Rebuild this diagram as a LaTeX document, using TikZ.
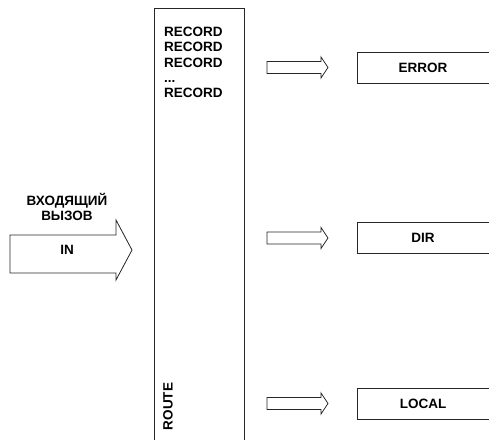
\documentclass[tikz,border=0pt]{standalone}
\usepackage{fontspec}
\setmainfont{Liberation Sans}
\begin{document}
\begin{tikzpicture}[x=1pt,y=-1pt,
  line/.style={draw=black!85,line width=0.8pt},
  lbl/.style={inner sep=0pt,font=\fontsize{13.5}{15.3}\selectfont\bfseries},
  outbox/.style={line,rectangle,inner sep=0pt,minimum width=140pt,minimum height=31pt,anchor=west},
  blockarrow/.style={line,fill=white,line join=miter}
]
\useasboundingbox (0,0) rectangle (489,439);

% route table column, open at the bottom
\draw[line] (154,445) -- (154,8) coordinate (tabtl) -- (244,8) coordinate (tabtr) -- (244,445);
\node[lbl,align=left,anchor=north west] (records) at (164,27)
  {RECORD\\RECORD\\RECORD\\...\\RECORD};
\node[lbl,rotate=90] (route) at (168,406.5) {ROUTE};

% incoming call arrow
\draw[blockarrow] (10,235) -- (116,235) -- (116,220) -- (132,250) -- (116,280) -- (116,273) -- (10,273) -- cycle;
\node[lbl] (in) at (67,250) {IN};
\node[lbl,align=center,anchor=north] (call) at (67,193) {ВХОДЯЩИЙ\\ВЫЗОВ};

% small transfer arrows and destination boxes
\foreach \name/\yc/\txt in {err/67.5/ERROR, dir/238/DIR, loc/403.5/LOCAL}{
  \draw[blockarrow] (267,\yc-6) -- (321,\yc-6) -- (321,\yc-10.5) -- (328,\yc)
     -- (321,\yc+10.5) -- (321,\yc+6) -- (267,\yc+6) -- cycle;
  \node[outbox] (\name box) at (357,\yc) {};
  \node[lbl] (\name) at (423,\yc) {\txt};
}
\end{tikzpicture}
\end{document}
